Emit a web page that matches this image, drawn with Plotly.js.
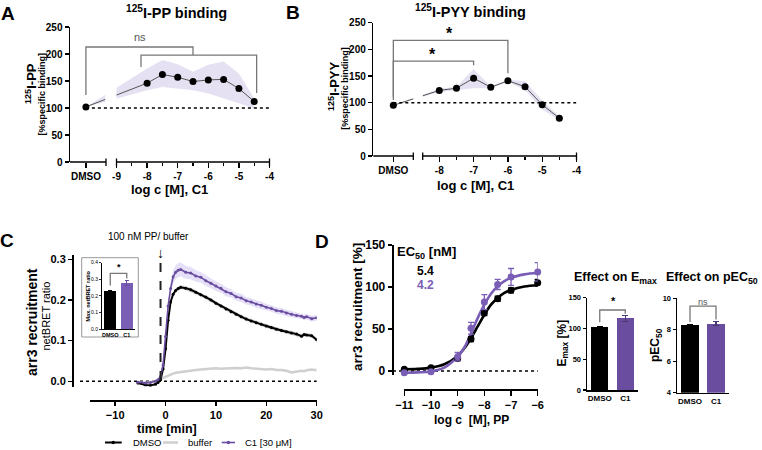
<!DOCTYPE html>
<html><head><meta charset="utf-8">
<script src="https://cdn.plot.ly/plotly-3.0.1.min.js"></script>
<style>html,body{margin:0;padding:0;background:#fff}#chart{width:762px;height:450px}</style>
</head><body><div id="chart"></div>
<script>
// ================= DATA =================
// Panel A: 125I-PP binding vs log c C1
const aConc = [-8, -7.5, -7, -6.5, -6, -5.5, -5, -4.5];
const aBinding = [146, 162, 157, 149, 152, 153, 136, 112];
const aBandHigh = [173, 189, 181, 167, 180, 186, 164, 118];
const aBandLow = [133, 139, 136, 133, 127, 118, 109, 99];
const aDmso = 102;
const aTickText = ['DMSO', '-9', '-8', '-7', '-6', '-5', '-4'];

// Panel B: 125I-PYY binding vs log c C1
const bConc = [-8, -7.5, -7, -6.5, -6, -5.5, -5, -4.5];
const bBinding = [123, 127, 146, 129, 141, 130, 96, 71];
const bBandHigh = [126, 130, 163, 131, 143, 140, 104, 74];
const bBandLow = [120, 124, 127, 127, 139, 124, 87, 67];
const bDmso = 95;
const bTickText = ['DMSO', '-8', '-7', '-6', '-5', '-4'];

// Panel C: arr3 recruitment kinetics (netBRET ratio)
const cTime = [-5.5,-4,-3,-2,-1.5,-1,-0.5,0,0.5,1,1.5,2,2.5,3,4,5,6,7,8,9,10,11,12,13,14,15,16,17,18,19,20,21,22,23,24,25,26,27,27.5,28,29,30];
const cDmso = [-0.004,-0.009,-0.010,-0.007,-0.003,0.004,0.030,0.080,0.150,0.195,0.214,0.223,0.228,0.231,0.229,0.225,0.219,0.213,0.207,0.200,0.192,0.185,0.178,0.171,0.165,0.159,0.153,0.148,0.144,0.140,0.136,0.132,0.128,0.125,0.122,0.119,0.116,0.111,0.115,0.114,0.112,0.102];
const cDmsoSem = [0.002,0.002,0.002,0.002,0.002,0.002,0.003,0.004,0.005,0.005,0.005,0.005,0.005,0.005,0.005,0.005,0.005,0.005,0.005,0.005,0.005,0.005,0.005,0.005,0.005,0.005,0.005,0.005,0.005,0.005,0.005,0.005,0.005,0.005,0.005,0.005,0.005,0.005,0.005,0.005,0.005,0.005];
const cBuffer = [-0.003,-0.004,-0.002,0.000,0.003,0.006,0.009,0.012,0.015,0.017,0.019,0.021,0.022,0.023,0.025,0.027,0.028,0.029,0.030,0.031,0.032,0.031,0.032,0.032,0.033,0.032,0.034,0.032,0.031,0.030,0.029,0.030,0.028,0.028,0.026,0.022,0.024,0.026,0.025,0.027,0.029,0.027];
const cC1 = [-0.002,-0.004,-0.003,0.000,0.004,0.012,0.040,0.110,0.185,0.228,0.257,0.268,0.273,0.275,0.268,0.266,0.259,0.256,0.247,0.241,0.234,0.229,0.220,0.216,0.208,0.205,0.198,0.195,0.190,0.187,0.182,0.179,0.174,0.172,0.168,0.165,0.162,0.160,0.157,0.159,0.154,0.156];
const cC1Sem = [0.003,0.003,0.003,0.003,0.003,0.004,0.006,0.008,0.012,0.015,0.016,0.017,0.017,0.017,0.016,0.015,0.014,0.013,0.013,0.012,0.012,0.011,0.011,0.010,0.010,0.010,0.009,0.009,0.009,0.009,0.008,0.008,0.008,0.008,0.008,0.008,0.007,0.007,0.007,0.007,0.007,0.007];
const cSeriesNames = ['DMSO', 'buffer', 'C1 [30 μM]'];
// Inset: max netBRET ratio
const insetGroups = ['DMSO', 'C1'];
const insetMax = [0.232, 0.275];
const insetErr = [0.003, 0.015];

// Panel D: concentration-response
const dConc = [-11, -10, -9, -8.5, -8, -7.5, -7, -6];
const dDmso = [2, 4, 15, 38, 69, 86, 96, 105];
const dDmsoErr = [1, 1, 2, 3, 3, 3, 3, 4];
const dC1 = [-2, -1, 17, 51, 82, 103, 112, 118];
const dC1Err = [1, 1, 5, 7, 9, 6, 10, 11];
const dFitConc = [-11, -10.5, -10, -9.5, -9, -8.75, -8.5, -8.25, -8, -7.75, -7.5, -7.25, -7, -6.5, -6];
const dFitDmso = [2, 2.5, 4, 8, 18, 27, 39, 53, 67, 79, 87, 93, 96.5, 100.5, 102];
const dFitC1 = [-2, -1.6, -0.5, 4, 17, 28, 45, 63, 79, 92, 101, 107, 111, 115, 117];
const ec50Values = ['5.4', '4.2'];
// Emax / pEC50 bars
const barGroups = ['DMSO', 'C1'];
const emaxValues = [102, 116.5];
const emaxErr = [1.5, 5];
const pec50Values = [8.28, 8.38];
const pec50Err = [0.04, 0.12];

// ================= HELPERS =================
const W = 762, H = 450;
const px = v => v / W;
const py = v => 1 - v / H;
const FONT = 'Liberation Sans, Arial, Helvetica, sans-serif';
const PURPLE = '#6a4d9f';
const PURPLE_D = '#7a5db5';
const BAND = 'rgba(160,148,210,0.28)';
const BRK = '#777';
const A_DMSO_X = -10;      // axis position of DMSO on panel A
const B_DMSO_X = -9.34;    // axis position of DMSO on panel B

const traces = [];
const shapes = [];
const annotations = [];

function ann(text, x, y, size, opts) {
  annotations.push(Object.assign({
    text: text, x: px(x), y: py(y), xref: 'paper', yref: 'paper',
    showarrow: false, xanchor: 'center', yanchor: 'middle',
    font: {family: FONT, size: size, color: '#000'}
  }, opts || {}));
}
function pline(x0, y0, x1, y1, color, width, dash) {
  shapes.push({type: 'line', xref: 'paper', yref: 'paper', x0: px(x0), y0: py(y0), x1: px(x1), y1: py(y1),
    line: {color: color, width: width, dash: dash || 'solid'}, layer: 'above'});
}
function bracket(xr, yr, x0, x1, yTop, yL, yR) {
  shapes.push({type: 'path', xref: xr, yref: yr,
    path: `M ${x0},${yL} L ${x0},${yTop} L ${x1},${yTop} L ${x1},${yR}`,
    line: {color: BRK, width: 1.3}, layer: 'above'});
}
function bandTrace(xs, hi, lo, xa, ya, color) {
  return {x: xs.concat(xs.slice().reverse()), y: hi.concat(lo.slice().reverse()),
    xaxis: xa, yaxis: ya, type: 'scatter', mode: 'lines', fill: 'toself', fillcolor: color,
    line: {width: 0}, hoverinfo: 'skip', showlegend: false};
}

// ================= PANEL A =================
traces.push(bandTrace([A_DMSO_X].concat(aConc), [aDmso].concat(aBandHigh), [aDmso].concat(aBandLow), 'x', 'y', BAND));
traces.push({x: [A_DMSO_X].concat(aConc), y: [aDmso].concat(aBinding), xaxis: 'x', yaxis: 'y', type: 'scatter',
  mode: 'lines+markers', line: {color: '#555', width: 1}, marker: {color: '#000', size: 7}, cliponaxis: false, showlegend: false});
// ================= PANEL B =================
traces.push(bandTrace([B_DMSO_X].concat(bConc), [bDmso].concat(bBandHigh), [bDmso].concat(bBandLow), 'x2', 'y2', BAND));
traces.push({x: [B_DMSO_X].concat(bConc), y: [bDmso].concat(bBinding), xaxis: 'x2', yaxis: 'y2', type: 'scatter',
  mode: 'lines+markers', line: {color: '#555', width: 1}, marker: {color: '#000', size: 7}, cliponaxis: false, showlegend: false});

// ================= PANEL C =================
traces.push(bandTrace(cTime, cDmso.map((v, i) => v + cDmsoSem[i]), cDmso.map((v, i) => v - cDmsoSem[i]), 'x3', 'y3', 'rgba(190,190,190,0.6)'));
traces.push(bandTrace(cTime, cC1.map((v, i) => v + cC1Sem[i]), cC1.map((v, i) => v - cC1Sem[i]), 'x3', 'y3', 'rgba(170,150,230,0.3)'));
traces.push({x: cTime, y: cBuffer, name: cSeriesNames[1], xaxis: 'x3', yaxis: 'y3', type: 'scatter', mode: 'lines',
  line: {color: '#cfcfcf', width: 2.5}, showlegend: false});
traces.push({x: cTime, y: cDmso, name: cSeriesNames[0], xaxis: 'x3', yaxis: 'y3', type: 'scatter', mode: 'lines+markers',
  line: {color: '#000', width: 2}, marker: {color: '#000', size: 3}, showlegend: false});
traces.push({x: cTime, y: cC1, name: cSeriesNames[2], xaxis: 'x3', yaxis: 'y3', type: 'scatter', mode: 'lines+markers',
  line: {color: PURPLE, width: 1.6}, marker: {color: PURPLE, size: 3}, showlegend: false});
// inset bars
insetGroups.forEach((g, i) => {
  traces.push({x: [i], y: [insetMax[i]], xaxis: 'x4', yaxis: 'y4', type: 'bar', width: 0.72,
    marker: {color: i === 0 ? '#000' : PURPLE_D, line: {width: 0}},
    error_y: {type: 'data', array: [insetErr[i]], visible: true, color: i === 0 ? '#000' : PURPLE, thickness: 1, width: 2},
    showlegend: false});
});

// ================= PANEL D =================
traces.push({x: dFitConc, y: dFitDmso, xaxis: 'x5', yaxis: 'y5', type: 'scatter', mode: 'lines', line: {color: '#000', width: 2.6, shape: 'spline'}, showlegend: false});
traces.push({x: dFitConc, y: dFitC1, xaxis: 'x5', yaxis: 'y5', type: 'scatter', mode: 'lines', line: {color: PURPLE_D, width: 2.6, shape: 'spline'}, showlegend: false});
traces.push({x: dConc, y: dDmso, xaxis: 'x5', yaxis: 'y5', type: 'scatter', mode: 'markers', marker: {color: '#000', size: 7},
  error_y: {type: 'data', array: dDmsoErr, visible: true, color: '#000', thickness: 1.3, width: 3}, cliponaxis: false, showlegend: false});
traces.push({x: dConc, y: dC1, xaxis: 'x5', yaxis: 'y5', type: 'scatter', mode: 'markers', marker: {color: PURPLE_D, size: 7},
  error_y: {type: 'data', array: dC1Err, visible: true, color: PURPLE_D, thickness: 1.3, width: 3}, cliponaxis: false, showlegend: false});
barGroups.forEach((g, i) => {
  traces.push({x: [i], y: [emaxValues[i]], xaxis: 'x6', yaxis: 'y6', type: 'bar', width: 0.66,
    marker: {color: i === 0 ? '#000' : PURPLE}, error_y: {type: 'data', array: [emaxErr[i]], visible: true, color: i === 0 ? '#000' : '#4a3670', thickness: 1.2, width: 3}, showlegend: false});
  traces.push({x: [i], y: [pec50Values[i]], xaxis: 'x7', yaxis: 'y7', type: 'bar', width: 0.66,
    marker: {color: i === 0 ? '#000' : PURPLE}, error_y: {type: 'data', array: [pec50Err[i]], visible: true, color: i === 0 ? '#000' : '#4a3670', thickness: 1.2, width: 3}, showlegend: false});
});

// ================= AXES =================
const baseAx = {showgrid: false, zeroline: false, fixedrange: true, color: '#000', tickcolor: '#000', linecolor: '#000'};
function ax(o) { return Object.assign({}, baseAx, o); }
const layout = {
  width: W, height: H, margin: {l: 0, r: 0, t: 0, b: 0}, paper_bgcolor: '#fff', plot_bgcolor: 'rgba(0,0,0,0)',
  font: {family: FONT, color: '#000'}, showlegend: false, bargap: 0,
  // A
  xaxis: ax({domain: [px(70), px(269.5)], range: [-10.52, -4], anchor: 'y', showline: false, ticks: 'outside', ticklen: 5, tickwidth: 1.3,
    tickvals: [A_DMSO_X, -9, -8, -7, -6, -5, -4], ticktext: aTickText, tickfont: {size: 10, weight: 'bold'},
    minor: {tickvals: [-8.5, -7.5, -6.5, -5.5, -4.5], ticks: 'outside', ticklen: 3, tickwidth: 1.1, tickcolor: '#000'}}),
  yaxis: ax({domain: [py(162), py(27)], range: [0, 250], anchor: 'x', showline: true, linewidth: 1.5, ticks: 'outside', ticklen: 4, tickwidth: 1.3,
    tickvals: [0, 50, 100, 150, 200, 250], tickfont: {size: 10, weight: 'bold'}}),
  // B
  xaxis2: ax({domain: [px(373.3), px(576.5)], range: [-9.924, -4], anchor: 'y2', showline: false, ticks: 'outside', ticklen: 5, tickwidth: 1.3,
    tickvals: [B_DMSO_X, -8, -7, -6, -5, -4], ticktext: bTickText, tickfont: {size: 10, weight: 'bold'},
    minor: {tickvals: [-7.5, -6.5, -5.5, -4.5], ticks: 'outside', ticklen: 3, tickwidth: 1.1, tickcolor: '#000'}}),
  yaxis2: ax({domain: [py(156), py(22.7)], range: [0, 250], anchor: 'x2', showline: true, linewidth: 1.5, ticks: 'outside', ticklen: 4, tickwidth: 1.3,
    tickvals: [0, 50, 100, 150, 200, 250], tickfont: {size: 10, weight: 'bold'}}),
  // C main
  xaxis3: ax({domain: [px(90), px(316.7)], range: [-15, 30], anchor: 'free', position: py(401), showline: true, linewidth: 2, ticks: 'outside', ticklen: 4, tickwidth: 1.5,
    tickvals: [-10, 0, 10, 20, 30], tickfont: {size: 11, weight: 'bold'}}),
  yaxis3: ax({domain: [py(386.6), py(255.2)], range: [-0.013, 0.31], anchor: 'free', position: px(73), showline: true, linewidth: 2, ticks: 'outside', ticklen: 4, tickwidth: 1.5,
    tickvals: [0, 0.1, 0.2, 0.3], ticktext: ['0.0', '0.1', '0.2', '0.3'], tickfont: {size: 11, weight: 'bold'}}),
  // C inset
  xaxis4: ax({domain: [px(102), px(135)], range: [-0.5, 1.5], anchor: 'y4', showline: true, linewidth: 1, ticks: '',
    tickvals: [0, 1], ticktext: insetGroups, tickfont: {size: 5.5, weight: 'bold'}}),
  yaxis4: ax({domain: [py(329), py(262.7)], range: [0, 0.4], anchor: 'x4', showline: true, linewidth: 1, ticks: 'outside', ticklen: 2, tickwidth: 0.8,
    tickvals: [0, 0.1, 0.2, 0.3, 0.4], ticktext: ['0.0', '0.1', '0.2', '0.3', '0.4'], tickfont: {size: 5}}),
  // D curves
  xaxis5: ax({domain: [px(404.3), px(537.7)], range: [-11, -6], anchor: 'free', position: py(390), showline: true, linewidth: 2, ticks: 'outside', ticklen: 5, tickwidth: 1.5,
    tickvals: [-11, -10, -9, -8, -7, -6], tickfont: {size: 11, weight: 'bold'}}),
  yaxis5: ax({domain: [py(375.2), py(245)], range: [-5, 150], anchor: 'free', position: px(392.7), showline: true, linewidth: 2, ticks: 'outside', ticklen: 4, tickwidth: 1.5,
    tickvals: [0, 50, 100, 150], tickfont: {size: 12, weight: 'bold'}}),
  // Emax
  xaxis6: ax({domain: [px(587), px(638)], range: [-0.5, 1.5], anchor: 'y6', showline: true, linewidth: 1.5, ticks: '',
    tickvals: [0, 1], ticktext: barGroups, tickfont: {size: 8, weight: 'bold'}}),
  yaxis6: ax({domain: [py(390), py(297.7)], range: [0, 150], anchor: 'x6', showline: true, linewidth: 1.5, ticks: 'outside', ticklen: 3, tickwidth: 1.2,
    tickvals: [0, 50, 100, 150], tickfont: {size: 7.5, weight: 'bold'}}),
  // pEC50
  xaxis7: ax({domain: [px(677), px(729)], range: [-0.5, 1.5], anchor: 'y7', showline: true, linewidth: 1.5, ticks: '',
    tickvals: [0, 1], ticktext: barGroups, tickfont: {size: 8, weight: 'bold'}}),
  yaxis7: ax({domain: [py(392.7), py(298.3)], range: [4, 10], anchor: 'x7', showline: true, linewidth: 1.5, ticks: 'outside', ticklen: 3, tickwidth: 1.2,
    tickvals: [4, 6, 8, 10], tickfont: {size: 7.5, weight: 'bold'}}),
  shapes: shapes, annotations: annotations
};

// ================= DECORATIONS =================
// A: broken x axis
pline(70, 162, 106, 162, '#000', 1.5); pline(116.5, 162, 269.5, 162, '#000', 1.5);
[106, 116.5, 269.5].forEach(x => pline(x, 158.5, x, 166, '#000', 1.3));
shapes.push({type: 'rect', xref: 'x', yref: 'y', x0: -9.37, x1: -9.0, y0: 102.5, y1: 150, fillcolor: '#fff', line: {width: 0}, layer: 'above'});
shapes.push({type: 'line', xref: 'x', yref: 'y', x0: A_DMSO_X, x1: -4, y0: 100, y1: 100, line: {color: '#000', width: 1.5, dash: 'dot'}, layer: 'above'});
bracket('x', 'y', A_DMSO_X, -6.5, 213, 124, 198);
bracket('x', 'y', -8.2, -4.42, 198, 176, 128);
// B: broken x axis
pline(373.3, 156, 413.3, 156, '#000', 1.5); pline(422.7, 156, 576.5, 156, '#000', 1.5);
[413.3, 422.7, 576.5].forEach(x => pline(x, 152.5, x, 160, '#000', 1.3));
shapes.push({type: 'rect', xref: 'x2', yref: 'y2', x0: -8.76, x1: -8.48, y0: 102.5, y1: 130, fillcolor: '#fff', line: {width: 0}, layer: 'above'});
shapes.push({type: 'line', xref: 'x2', yref: 'y2', x0: B_DMSO_X, x1: -4, y0: 100, y1: 100, line: {color: '#000', width: 1.5, dash: 'dot'}, layer: 'above'});
bracket('x2', 'y2', B_DMSO_X, -6, 217, 105, 155);
bracket('x2', 'y2', B_DMSO_X, -7, 178, 111, 170);
// C
shapes.push({type: 'line', xref: 'paper', yref: 'y3', x0: px(80), x1: px(316.7), y0: 0, y1: 0, line: {color: '#000', width: 1.5, dash: 'dot'}, layer: 'below'});
shapes.push({type: 'line', xref: 'x3', yref: 'y3', x0: -1, x1: -1, y0: 0.003, y1: 0.3, line: {color: '#222', width: 2, dash: 'dash'}, layer: 'above'});
shapes.push({type: 'rect', xref: 'paper', yref: 'paper', x0: px(81.7), x1: px(138.3), y0: py(337), y1: py(257.7), line: {color: '#999', width: 1}, fillcolor: 'rgba(0,0,0,0)', layer: 'below'});
bracket('x4', 'y4', 0, 1, 0.335, 0.262, 0.305);
// D
shapes.push({type: 'line', xref: 'paper', yref: 'y5', x0: px(393), x1: px(537.7), y0: 0, y1: 0, line: {color: '#000', width: 1.5, dash: 'dot'}, layer: 'below'});
bracket('x6', 'y6', 0, 1, 130, 110, 124);
bracket('x7', 'y7', 0, 1, 9.5, 8.5, 8.65);
// Legend of panel C
const legY = 442.5;
pline(105, legY, 121.7, legY, '#000', 2);
shapes.push({type: 'circle', xref: 'paper', yref: 'paper', x0: px(111.5), x1: px(115), y0: py(legY + 1.75), y1: py(legY - 1.75), fillcolor: '#000', line: {width: 0}});
ann(cSeriesNames[0], 131, legY, 9.5, {xanchor: 'left'});
pline(163, legY, 178, legY, '#cfcfcf', 2.5);
ann(cSeriesNames[1], 186, legY, 9.5, {xanchor: 'left'});
pline(221.7, legY, 235, legY, PURPLE, 1.6);
shapes.push({type: 'circle', xref: 'paper', yref: 'paper', x0: px(226.6), x1: px(230.1), y0: py(legY + 1.75), y1: py(legY - 1.75), fillcolor: PURPLE, line: {width: 0}});
ann(cSeriesNames[2], 243, legY, 9.5, {xanchor: 'left'});

// ================= TEXT =================
ann('<b>A</b>', 8.3, 13.3, 19); ann('<b>B</b>', 293.3, 12.5, 19); ann('<b>C</b>', 7, 240, 19); ann('<b>D</b>', 321.7, 241.7, 19);
ann('<b><sup>125</sup>I-PP binding</b>', 176, 12, 14.5);
ann('<b><sup>125</sup>I-PYY binding</b>', 470.8, 11, 14.5);
ann('<b><sup>125</sup>I-PP</b>', 31, 84, 13, {textangle: -90});
ann('<b>[%specific binding]</b>', 41.5, 94, 9, {textangle: -90});
ann('<b><sup>125</sup>I-PYY</b>', 334, 87, 13, {textangle: -90});
ann('<b>[%specific binding]</b>', 344.8, 88, 9, {textangle: -90});
ann('<b>log c [M], C1</b>', 169, 189.3, 13);
ann('<b>log c [M], C1</b>', 475.8, 185, 13);
ann('ns', 140.3, 37, 11, {font: {family: FONT, size: 11, color: '#555'}});
ann('<b>*</b>', 450, 33, 16);
ann('<b>*</b>', 432.7, 54, 16);
// C texts
ann('100 nM PP/ buffer', 148, 236.5, 10);
ann('↓', 160.5, 253, 14);
ann('<b>arr3 recruitment</b>', 32, 322, 14, {textangle: -90});
ann('netBRET ratio', 45.5, 316, 11, {textangle: -90});
ann('<b>time [min]</b>', 166.7, 429, 12.5);
ann('<b>Max. netBRET ratio</b>', 87.5, 296, 5.5, {textangle: -90});
ann('<b>*</b>', 118.5, 267, 9);
// D texts
ann('<b>EC<sub>50</sub> [nM]</b>', 426, 253, 13);
ann('<b>' + ec50Values[0] + '</b>', 425, 270.5, 12);
ann('<b>' + ec50Values[1] + '</b>', 425, 284.5, 12, {font: {family: FONT, size: 12, color: PURPLE_D}});
ann('<b>arr3 recruitment [%]</b>', 357, 307, 13.5, {textangle: -90});
ann('<b>log c\u00a0 [M], PP</b>', 471.7, 420, 12);
ann('<b>Effect on E<sub>max</sub></b>', 615, 278.3, 12.5);
ann('<b>Effect on pEC<sub>50</sub></b>', 712, 278.3, 12.5);
ann('<b>E<sub>max</sub> [%]</b>', 562.5, 343, 12, {textangle: -90});
ann('<b>pEC<sub>50</sub></b>', 656, 345, 12, {textangle: -90});
ann('<b>*</b>', 613.3, 301, 11);
ann('ns', 703, 302, 9, {font: {family: FONT, size: 9, color: '#555'}});

Plotly.newPlot('chart', traces, layout, {staticPlot: true, displayModeBar: false});
</script></body></html>
